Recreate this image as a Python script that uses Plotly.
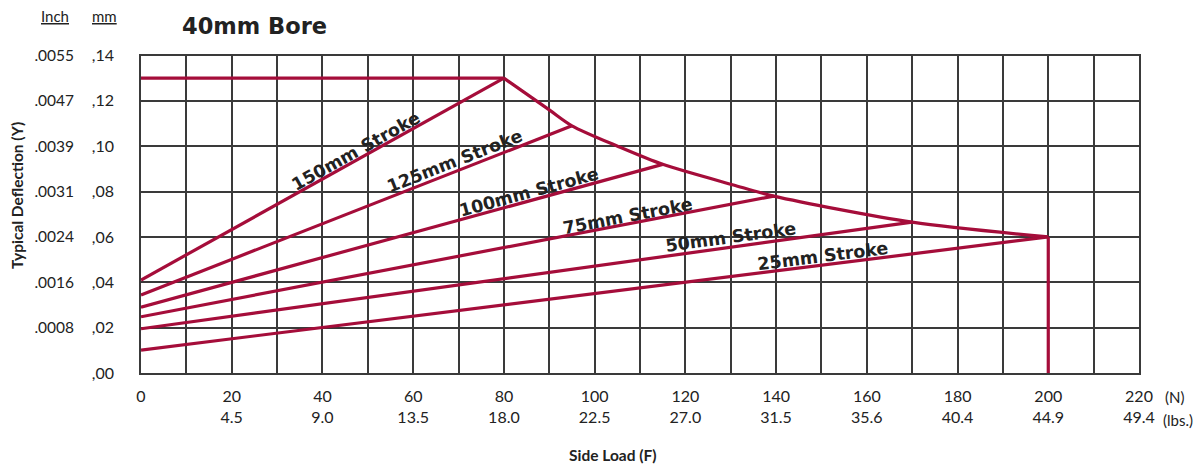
import plotly.graph_objects as go

# ---- data ----
load_ticks_n = [0, 20, 40, 60, 80, 100, 120, 140, 160, 180, 200, 220]
load_ticks_lbs = ["", "4.5", "9.0", "13.5", "18.0", "22.5", "27.0", "31.5", "35.6", "40.4", "44.9", "49.4"]
defl_ticks_mm = [0.00, 0.02, 0.04, 0.06, 0.08, 0.10, 0.12, 0.14]
defl_text_mm = [",00", ",02", ",04", ",06", ",08", ",10", ",12", ",14"]
defl_text_inch = ["", ".0008", ".0016", ".0024", ".0031", ".0039", ".0047", ".0055"]

strokes = ["150mm Stroke", "125mm Stroke", "100mm Stroke", "75mm Stroke", "50mm Stroke", "25mm Stroke"]
stroke_start = [0.041, 0.0344, 0.029, 0.0248, 0.0195, 0.0101]   # deflection at 0 N
stroke_end_load = [80, 95, 115, 139.5, 170, 200]
stroke_end_defl = [0.130, 0.109, 0.092, 0.078, 0.0665, 0.060]

cap_load = [0, 80]
cap_defl = [0.130, 0.130]
envelope_load = [80, 90, 95, 105.3, 115, 130.6, 139.5, 170, 200]
envelope_defl = [0.130, 0.116, 0.109, 0.0998, 0.092, 0.0829, 0.078, 0.0665, 0.060]
limit_load = [200, 200]
limit_defl = [0.060, 0.0]

label_load = [47.4, 69.2, 85.6, 107.4, 130.1, 150.4]
label_defl = [0.0979, 0.0934, 0.0798, 0.0692, 0.0600, 0.0516]
label_angle = [-29.1, -21.4, -15.3, -10.8, -7.8, -7.1]

RED = "#A50D3A"
GRID = "#3a3a3a"
TXT = "#222222"
W, H = 1195, 468
X0, X1 = 141, 1139
Y0, Y1 = 55.5, 373

fig = go.Figure()
line = dict(color=RED, width=3.2)
for s, y0, xe, ye in zip(strokes, stroke_start, stroke_end_load, stroke_end_defl):
    fig.add_trace(go.Scatter(x=[0, xe], y=[y0, ye], mode="lines", line=line, name=s, hoverinfo="skip"))
fig.add_trace(go.Scatter(x=cap_load, y=cap_defl, mode="lines", line=line, hoverinfo="skip"))
fig.add_trace(go.Scatter(x=envelope_load, y=envelope_defl, mode="lines",
                         line=dict(color=RED, width=3.2, shape="spline", smoothing=0.8), hoverinfo="skip"))
fig.add_trace(go.Scatter(x=limit_load, y=limit_defl, mode="lines", line=line, hoverinfo="skip"))
# invisible trace for inch axis
fig.add_trace(go.Scatter(x=[0], y=[0], yaxis="y2", mode="markers", marker=dict(opacity=0), hoverinfo="skip"))

for t, x, y, a in zip(strokes, label_load, label_defl, label_angle):
    fig.add_annotation(x=x, y=y, text="<b>" + t + "</b>", textangle=a, showarrow=False,
                       font=dict(family="DejaVu Sans", size=17.5, color=TXT),
                       xanchor="center", yanchor="middle")

x_tickvals = list(range(0, 221, 10))
x_ticktext = []
for v in x_tickvals:
    if v in load_ticks_n:
        i = load_ticks_n.index(v)
        x_ticktext.append(str(v) + ("<br>" + load_ticks_lbs[i] if load_ticks_lbs[i] else ""))
    else:
        x_ticktext.append("")

cond = "Lato"

fig.update_layout(
    width=W, height=H, showlegend=False,
    paper_bgcolor="white", plot_bgcolor="white",
    margin=dict(l=0, r=0, t=0, b=0),
    xaxis=dict(domain=[X0 / W, X1 / W], range=[0, 220], tickvals=x_tickvals, ticktext=x_ticktext,
               showgrid=True, gridcolor=GRID, gridwidth=1.5, zeroline=False, automargin=False,
               showline=True, linecolor=GRID, linewidth=1.5, mirror=True, ticks="",
               tickfont=dict(family=cond, size=16, color=TXT), ticklabelstandoff=8),
    yaxis=dict(domain=[(H - Y1) / H, (H - Y0) / H], range=[0, 0.14], tickvals=defl_ticks_mm,
               ticktext=defl_text_mm, showgrid=True, gridcolor=GRID, gridwidth=1.5, zeroline=False,
               showline=True, linecolor=GRID, linewidth=1.5, mirror=True, ticks="", automargin=False,
               tickfont=dict(family=cond, size=16, color=TXT), ticklabelstandoff=22),
    yaxis2=dict(overlaying="y", matches="y", anchor="free", position=74 / W, side="left",
                range=[0, 0.14], tickvals=defl_ticks_mm, ticktext=defl_text_inch, automargin=False,
                showgrid=False, zeroline=False, showline=False, ticks="",
                tickfont=dict(family=cond, size=15.5, color=TXT)),
)

ann = [
    dict(x=180 / W, y=1 - 26 / H, text="<b>40mm Bore</b>", xanchor="left", yanchor="middle",
         font=dict(family="DejaVu Sans", size=22.5, color=TXT)),
    dict(x=55 / W, y=1 - 16 / H, text="<u>Inch</u>", xanchor="center", yanchor="middle",
         font=dict(family=cond, size=15, color=TXT)),
    dict(x=105 / W, y=1 - 16 / H, text="<u>mm</u>", xanchor="center", yanchor="middle",
         font=dict(family=cond, size=15, color=TXT)),
    dict(x=17 / W, y=1 - 196 / H, text="<b>Typical Deflection (Y)</b>", textangle=-90,
         xanchor="center", yanchor="middle", font=dict(family=cond, size=15.5, color=TXT)),
    dict(x=613 / W, y=1 - 455 / H, text="<b>Side Load (F)</b>", xanchor="center", yanchor="middle",
         font=dict(family=cond, size=15.5, color=TXT)),
    dict(x=1163 / W, y=1 - 397 / H, text="(N)", xanchor="left", yanchor="middle",
         font=dict(family=cond, size=15, color=TXT)),
    dict(x=1161 / W, y=1 - 420 / H, text="(lbs.)", xanchor="left", yanchor="middle",
         font=dict(family=cond, size=15, color=TXT)),
]
for a in ann:
    fig.add_annotation(xref="paper", yref="paper", showarrow=False, **a)

fig.write_html("out.html", config={"displayModeBar": False},
               post_script="document.body.style.margin='0';")
